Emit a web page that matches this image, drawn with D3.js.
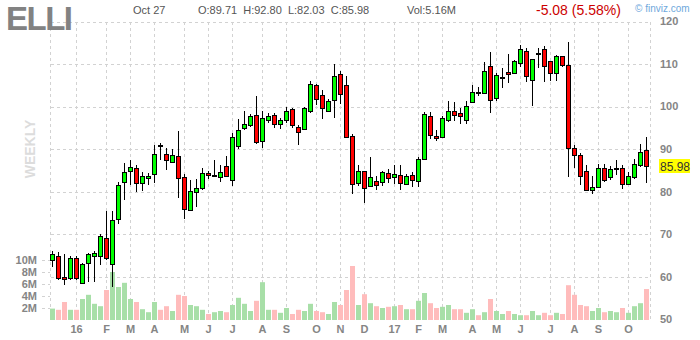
<!DOCTYPE html>
<html lang="en">
<head>
    <meta charset="UTF-8">
    <title>ELLI weekly</title>
    <script src="https://d3js.org/d3.v7.min.js"></script>
    <style>
        body {
            margin: 0;
            background: #fff;
        }
        svg {
            display: block;
            font-family: Arial, "Liberation Sans", sans-serif;
        }
        .grid line {
            stroke: #d2d2d2;
            stroke-dasharray: 3,3;
            shape-rendering: crispEdges;
        }
        .wick {
            stroke: #000;
            shape-rendering: crispEdges;
        }
        .body {
            stroke: #000;
            stroke-width: 1;
            shape-rendering: crispEdges;
        }
        .axis-label {
            fill: #858585;
            font-size: 11px;
            font-weight: bold;
        }
    </style>
</head>
<body>
    <svg width="700" height="340"></svg>

    <script>
        // weekly OHLC, Dec 2015 - Oct 2017
        const open = [63.9, 65.0, 60.0, 59.9, 64.5, 58.6, 63.3, 65.0, 64.9, 69.2,
            63.1, 73.7, 82.3, 84.9, 85.6, 82.1, 83.3, 84.2, 90.9, 88.9,
            87.0, 88.5, 83.5, 75.6, 80.0, 80.9, 84.5, 83.7, 83.5, 86.1,
            82.8, 90.9, 95.0, 95.7, 98.1, 92.0, 96.9, 98.1, 96.0, 96.7,
            99.5, 95.3, 94.8, 99.0, 105.1, 102.8, 99.0, 101.6, 107.6, 105.0,
            93.2, 82.1, 85.0, 81.2, 82.6, 82.3, 84.5, 83.5, 84.0, 81.9,
            84.0, 82.6, 87.7, 97.9, 93.2, 93.0, 96.9, 99.0, 98.6, 96.9,
            101.1, 103.5, 103.3, 109.6, 102.1, 106.7, 108.2, 107.9, 110.3, 113.0,
            106.3, 112.3, 113.6, 110.7, 107.7, 111.8, 109.8, 90.3, 88.7, 84.9,
            80.5, 81.2, 85.6, 83.5, 85.4, 85.6, 81.9, 83.5, 86.3, 89.71];
        const high = [66.0, 65.8, 65.4, 64.8, 64.8, 63.2, 65.6, 66.2, 70.1, 75.6,
            75.4, 82.3, 86.8, 87.4, 86.2, 84.6, 84.4, 91.1, 91.5, 90.3,
            90.1, 94.2, 84.2, 82.7, 83.0, 85.6, 85.0, 87.4, 86.2, 88.3,
            93.8, 97.1, 98.9, 98.3, 102.6, 98.9, 98.6, 98.6, 97.4, 100.0,
            99.6, 95.7, 99.9, 106.1, 105.3, 103.8, 101.7, 110.1, 108.3, 107.3,
            93.5, 86.2, 85.0, 88.1, 83.8, 85.0, 85.4, 86.4, 86.2, 84.2,
            84.6, 88.1, 98.8, 98.8, 94.4, 97.9, 101.4, 101.0, 99.7, 101.4,
            105.0, 104.6, 110.5, 112.9, 107.9, 109.1, 112.4, 111.0, 114.4, 113.8,
            111.2, 113.8, 114.2, 110.7, 112.2, 111.8, 115.1, 90.9, 89.2, 86.2,
            83.8, 86.6, 86.6, 86.0, 87.4, 86.2, 84.7, 87.6, 91.3, 92.80];
        const low = [62.3, 59.2, 58.0, 59.3, 59.2, 58.4, 58.8, 58.9, 62.7, 63.9,
            57.6, 72.5, 78.1, 81.7, 79.9, 80.3, 81.7, 82.0, 87.4, 85.2,
            86.7, 78.5, 73.7, 75.4, 76.4, 80.5, 83.0, 83.4, 82.3, 83.5,
            81.3, 90.1, 94.6, 95.3, 91.3, 90.3, 96.1, 94.9, 94.7, 96.2,
            94.9, 91.0, 94.6, 98.5, 100.5, 97.0, 99.0, 97.4, 100.7, 92.7,
            79.5, 81.4, 77.3, 81.1, 80.5, 81.4, 82.0, 81.9, 80.5, 81.5,
            81.2, 81.1, 87.5, 92.3, 91.9, 92.7, 96.3, 96.6, 96.0, 96.0,
            101.1, 102.6, 103.2, 98.6, 101.3, 104.4, 105.5, 107.9, 109.3, 105.7,
            100.2, 109.1, 105.7, 106.0, 106.1, 109.3, 83.4, 85.6, 81.7, 80.5,
            79.5, 80.9, 82.4, 82.8, 84.0, 80.7, 81.9, 83.0, 85.8, 82.03];
        const close = [65.4, 59.8, 59.5, 64.5, 59.8, 63.1, 65.3, 65.7, 69.7, 64.6,
            73.4, 81.6, 84.7, 85.9, 82.1, 83.8, 83.8, 88.9, 90.6, 87.5,
            88.7, 83.4, 76.0, 80.1, 80.9, 84.4, 84.0, 84.0, 84.7, 83.7,
            92.8, 94.6, 96.0, 97.9, 91.7, 97.4, 97.9, 96.0, 96.9, 98.9,
            95.7, 94.1, 99.7, 105.3, 101.8, 99.7, 101.3, 107.3, 103.0, 92.7,
            81.9, 85.0, 80.9, 83.4, 81.6, 84.7, 83.3, 84.1, 82.1, 83.8,
            82.8, 87.7, 98.3, 93.4, 92.7, 97.4, 99.0, 98.1, 97.9, 100.2,
            103.5, 103.2, 108.4, 101.6, 107.5, 107.0, 107.7, 110.7, 113.5, 107.2,
            111.2, 112.6, 109.7, 107.9, 111.8, 109.7, 90.3, 88.7, 83.8, 80.5,
            81.2, 85.6, 82.8, 85.4, 85.6, 81.9, 83.8, 86.6, 89.3, 85.98];
        // weekly volume, millions of shares
        const volume = [1.9, 1.7, 3.0, 1.7, 1.7, 3.5, 4.2, 2.7, 2.3, 5.0,
            8.0, 5.5, 6.2, 3.5, 3.0, 1.8, 1.3, 3.0, 1.7, 2.3,
            1.5, 4.2, 4.0, 2.5, 2.3, 1.7, 1.0, 1.3, 1.5, 1.3,
            2.5, 3.7, 2.7, 1.5, 3.2, 6.3, 1.7, 1.7, 1.2, 2.0,
            1.0, 1.7, 1.5, 2.7, 1.5, 1.3, 1.0, 3.0, 2.5, 5.0,
            9.0, 2.5, 4.3, 2.8, 2.3, 2.0, 2.2, 2.3, 2.5, 1.8,
            1.8, 3.2, 4.5, 2.8, 2.0, 2.2, 2.5, 1.8, 1.8, 1.2,
            1.8, 0.8, 1.3, 3.5, 1.5, 1.0, 1.5, 1.0, 0.8, 0.8,
            1.5, 0.8, 1.2, 0.8, 1.2, 1.0, 5.8, 4.2, 2.5, 2.3,
            1.5, 2.0, 1.3, 1.5, 1.3, 2.0, 1.2, 2.3, 2.8, 5.16];

        const priceTicks = [60, 70, 80, 90, 100, 110, 120];
        const volTicks = [2, 4, 6, 8, 10];
        const lastPrice = 85.98;

        // week-ending Fridays
        const weeks = d3.timeFriday.range(new Date(2015, 11, 4), new Date(2017, 9, 28));

        const svg = d3.select('svg');

        const x = d3.scaleLinear().domain([0, weeks.length - 1]).range([52.5, 646.5]);
        const y = d3.scaleLinear().domain([50, 120]).range([319.5, 21.5]);
        const yVol = d3.scaleLinear().domain([0, 10]).range([320, 260]);

        const plotLeft = 50.5, plotRight = 650.5, plotTop = 21.5, plotBottom = 319.5;

        // month ticks where the month changes
        const monthTicks = [];
        weeks.forEach((d, i) => {
            if (i > 0 && d.getMonth() !== weeks[i - 1].getMonth()) {
                monthTicks.push({
                    i: i,
                    label: d.getMonth() === 0 ? d3.timeFormat('%y')(d) : d3.timeFormat('%b')(d)[0]
                });
            }
        });

        // grid
        const grid = svg.append('g').attr('class', 'grid');
        grid.selectAll('.hline')
            .data(priceTicks)
            .enter().append('line')
            .attr('x1', plotLeft).attr('x2', plotRight)
            .attr('y1', d => Math.round(y(d)) + 0.5)
            .attr('y2', d => Math.round(y(d)) + 0.5);

        grid.selectAll('.vline')
            .data(monthTicks)
            .enter().append('line')
            .attr('x1', d => x(d.i)).attr('x2', d => x(d.i))
            .attr('y1', plotTop).attr('y2', plotBottom);

        grid.append('line')
            .attr('x1', plotLeft).attr('x2', plotLeft)
            .attr('y1', plotTop).attr('y2', plotBottom);
        grid.append('line')
            .attr('x1', plotRight).attr('x2', plotRight)
            .attr('y1', plotTop).attr('y2', plotBottom);

        grid.selectAll('.vtick')
            .data(volTicks)
            .enter().append('line')
            .attr('x1', 42).attr('x2', 50)
            .attr('y1', d => Math.round(yVol(d)) + 0.5)
            .attr('y2', d => Math.round(yVol(d)) + 0.5);

        // volume bars
        svg.append('g')
            .selectAll('rect')
            .data(volume)
            .enter().append('rect')
            .attr('x', (d, i) => x(i) - 2.5)
            .attr('width', 5)
            .attr('y', d => yVol(d))
            .attr('height', d => yVol(0) - yVol(d))
            .attr('fill', (d, i) => close[i] >= open[i] ? '#a8dfa8' : '#ffbcbc');

        // candles
        const candles = svg.append('g')
            .selectAll('g')
            .data(d3.range(weeks.length))
            .enter().append('g');

        candles.append('line')
            .attr('class', 'wick')
            .attr('x1', i => x(i)).attr('x2', i => x(i))
            .attr('y1', i => y(high[i])).attr('y2', i => y(low[i]));

        candles.append('rect')
            .attr('class', 'body')
            .attr('x', i => x(i) - 2)
            .attr('width', 4)
            .attr('y', i => Math.round(y(Math.max(open[i], close[i]))) + 0.5)
            .attr('height', i => Math.max(1, Math.round(Math.abs(y(open[i]) - y(close[i])))))
            .attr('fill', i => close[i] >= open[i] ? '#00ff00' : '#ff0000');

        // right price axis
        svg.append('g')
            .selectAll('text')
            .data([50].concat(priceTicks))
            .enter().append('text')
            .attr('class', 'axis-label')
            .attr('x', 660)
            .attr('y', d => y(d))
            .attr('dy', '0.35em')
            .text(d => d);

        // left volume axis
        svg.append('g')
            .selectAll('text')
            .data(volTicks)
            .enter().append('text')
            .attr('class', 'axis-label')
            .attr('x', 37)
            .attr('y', d => yVol(d))
            .attr('dy', '0.35em')
            .attr('text-anchor', 'end')
            .text(d => d + 'M');

        // month labels
        svg.append('g')
            .selectAll('text')
            .data(monthTicks)
            .enter().append('text')
            .attr('class', 'axis-label')
            .attr('x', d => x(d.i))
            .attr('y', 329)
            .attr('dy', '0.35em')
            .attr('text-anchor', 'middle')
            .text(d => d.label);

        // last price marker
        svg.append('rect')
            .attr('x', 659).attr('y', Math.round(y(lastPrice)) - 7)
            .attr('width', 31).attr('height', 14)
            .attr('fill', '#ffff00');
        svg.append('text')
            .attr('x', 660).attr('y', y(lastPrice))
            .attr('dy', '0.35em')
            .attr('font-size', 12)
            .attr('fill', '#333')
            .text(lastPrice.toFixed(2));

        // header
        svg.append('text')
            .attr('x', 6).attr('y', 30)
            .attr('font-size', 33).attr('font-weight', 'bold')
            .attr('fill', '#828282')
            .attr('textLength', 67)
            .text('ELLI');

        svg.append('text')
            .attr('transform', 'translate(35,149) rotate(-90)')
            .attr('text-anchor', 'middle')
            .attr('font-size', 14).attr('font-weight', 'bold')
            .attr('fill', '#dcdcdc')
            .text('WEEKLY');

        const headerY = 14;
        svg.append('text')
            .attr('x', 133).attr('y', headerY)
            .attr('font-size', 11).attr('fill', '#555')
            .text('Oct 27');
        svg.append('text')
            .attr('x', 198).attr('y', headerY)
            .attr('font-size', 11).attr('fill', '#555')
            .attr('xml:space', 'preserve')
            .text('O:' + open[99].toFixed(2) + '  H:' + high[99].toFixed(2) +
                '  L:' + low[99].toFixed(2) + '  C:' + close[99].toFixed(2));
        svg.append('text')
            .attr('x', 407).attr('y', headerY)
            .attr('font-size', 11).attr('fill', '#555')
            .text('Vol:' + volume[99].toFixed(2) + 'M');

        svg.append('text')
            .attr('x', 536).attr('y', 15)
            .attr('font-size', 14).attr('fill', '#cc0000')
            .text('-5.08 (5.58%)');

        svg.append('text')
            .attr('x', 635).attr('y', 12)
            .attr('font-size', 10).attr('fill', '#6fa8dc')
            .text('\u00a9 finviz.com');
    </script>
</body>
</html>
